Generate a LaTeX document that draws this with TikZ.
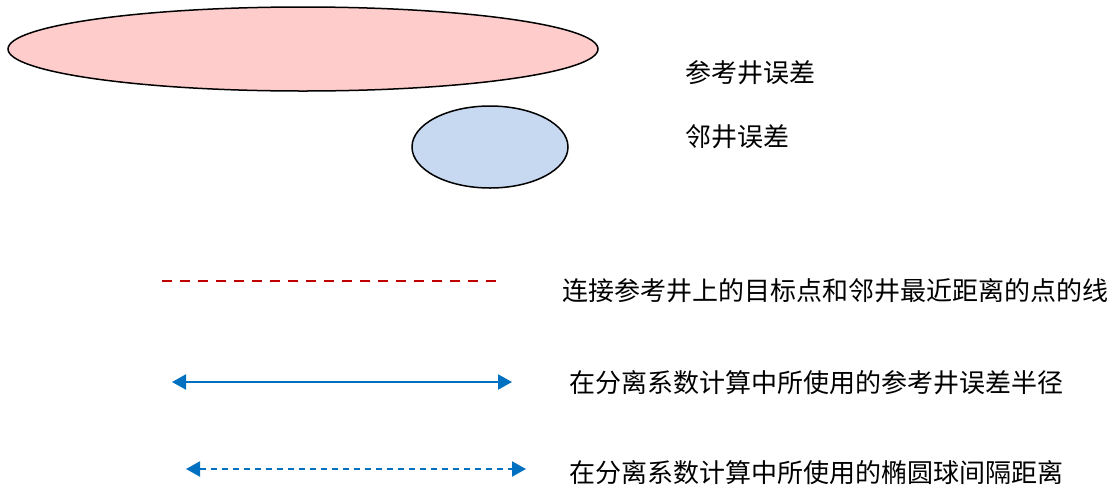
\documentclass[tikz,border=0pt]{standalone}
\usepackage{fontspec}
\newfontfamily\cjk{Noto Sans CJK SC}
\usetikzlibrary{shapes.geometric,arrows.meta}
\definecolor{refpink}{HTML}{FFCCCC}
\definecolor{offblue}{HTML}{C6D9F0}
\definecolor{linered}{HTML}{C00000}
\definecolor{lineblue}{HTML}{0070C0}
\tikzset{
  well/.style={ellipse,draw=black,line width=1.5pt,inner sep=0pt},
  label/.style={anchor=west,inner sep=0pt,font=\cjk\fontsize{26}{30}\selectfont},
  tip/.style={{Triangle[length=14pt,width=15pt]}-{Triangle[length=14pt,width=15pt]}}
}
\begin{document}
\begin{tikzpicture}[x=1pt,y=-1pt]
\useasboundingbox(0,0)rectangle(1115,491);
\node[well,fill=refpink,minimum width=590pt,minimum height=84pt](ref)at(303,49){};
\node[well,fill=offblue,minimum width=156pt,minimum height=82pt](off)at(490,147){};
\node[label](t1)at(685,73){参考井误差};
\node[label](t2)at(685,137){邻井误差};
\coordinate(a1)at(162,281);
\coordinate(b1)at(498,281);
\coordinate(a2)at(172,382);
\coordinate(b2)at(512,382);
\coordinate(a3)at(186,469);
\coordinate(b3)at(526,469);
\draw[linered,line width=2.2pt,dash pattern=on 10pt off 8pt](a1)--(b1);
\draw[lineblue,line width=2pt,tip](a2)--(b2);
\draw[lineblue,line width=2pt,tip,dash pattern=on 6pt off 5pt](a3)--(b3);
\node[label](t3)at(562,291){连接参考井上的目标点和邻井最近距离的点的线};
\node[label](t4)at(569,383){在分离系数计算中所使用的参考井误差半径};
\node[label](t5)at(569,473){在分离系数计算中所使用的椭圆球间隔距离};
\end{tikzpicture}
\end{document}
